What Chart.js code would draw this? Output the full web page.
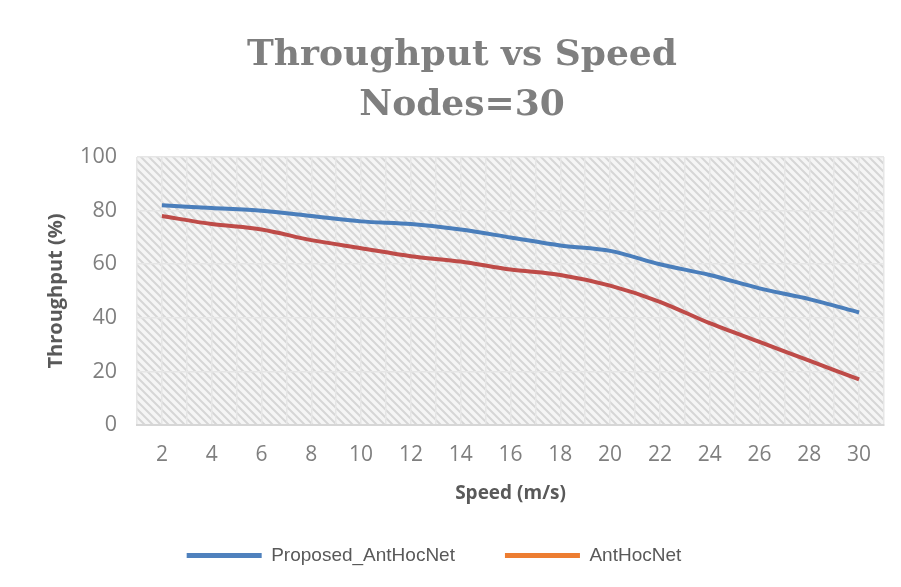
<!DOCTYPE html>
<html>
    <head>
        <title>Throughput vs Speed</title>
        <style>
            body { margin: 0; background: #ffffff; }
            #wrap { width: 901px; height: 587px; }
        </style>
    </head>
    <body>
        <div id="wrap">
            <canvas id="speed"></canvas>
        </div>

        <script src="https://cdn.jsdelivr.net/npm/chart.js"></script>
        <script>
            const speeds = [2, 4, 6, 8, 10, 12, 14, 16, 18, 20, 22, 24, 26, 28, 30];
            const proposed = [82, 81, 80, 78, 76, 75, 73, 70, 67, 65, 60, 56, 51, 47, 42];
            const antHocNet = [78, 75, 73, 69, 66, 63, 61, 58, 56, 52, 46, 38, 31, 24, 17];
            const yTicks = [0, 20, 40, 60, 80, 100];

            const toPoints = (vals) => speeds.map((s, i) => ({ x: s, y: vals[i] }));

            // diagonal hatch behind the plot, like the excel pattern fill
            const makeHatch = () => {
                const c = document.createElement('canvas');
                c.width = 8; c.height = 8;
                const g = c.getContext('2d');
                g.fillStyle = '#f5f5f5';
                g.fillRect(0, 0, 8, 8);
                g.strokeStyle = '#d6d6d6';
                g.lineWidth = 2;
                g.beginPath();
                g.moveTo(-2, -2); g.lineTo(10, 10);
                g.moveTo(-6, 2); g.lineTo(2, 10);
                g.moveTo(6, -2); g.lineTo(14, 6);
                g.stroke();
                return c;
            };

            const hatchBg = {
                id: 'hatchBg',
                afterLayout(chart) {
                    // title sits a bit right of centre, legend a bit left, as in the original
                    chart.titleBlock.left += 18;
                    chart.titleBlock.right += 18;
                    chart.legend.left -= 10;
                    chart.legend.right -= 10;
                },
                beforeDraw(chart) {
                    const { ctx, chartArea: a } = chart;
                    ctx.save();
                    ctx.fillStyle = ctx.createPattern(makeHatch(), 'repeat');
                    ctx.fillRect(a.left, a.top, a.right - a.left, a.bottom - a.top);
                    ctx.restore();
                }
            };

            const legendColors = ['#4f81bd', '#ed7d31'];

            new Chart(document.querySelector('#speed'), {
                type: 'line',
                data: {
                    datasets: [{
                        label: 'Proposed_AntHocNet',
                        data: toPoints(proposed),
                        borderColor: '#4a7ebb',
                        borderWidth: 4,
                        pointRadius: 0,
                        tension: 0.3
                    }, {
                        label: 'AntHocNet',
                        data: toPoints(antHocNet),
                        borderColor: '#be4b48',
                        borderWidth: 4,
                        pointRadius: 0,
                        tension: 0.3
                    }]
                },
                options: {
                    responsive: true,
                    maintainAspectRatio: false,
                    animation: false,
                    layout: { padding: { left: 0, right: 13, top: 0, bottom: 12 } },
                    plugins: {
                        title: {
                            display: true,
                            text: ['Throughput vs Speed', 'Nodes=30'],
                            color: '#7f7f7f',
                            font: { family: 'DejaVu Serif', size: 36, weight: 'bold', lineHeight: 1.39 },
                            padding: { top: 31, bottom: 26 }
                        },
                        legend: {
                            position: 'bottom',
                            labels: {
                                color: '#595959',
                                font: { family: 'Liberation Sans', size: 19 },
                                boxWidth: 75,
                                boxHeight: 5,
                                padding: 50,
                                generateLabels: (chart) => chart.data.datasets.map((ds, i) => ({
                                    text: ds.label,
                                    fillStyle: legendColors[i],
                                    strokeStyle: legendColors[i],
                                    lineWidth: 0,
                                    fontColor: '#595959',
                                    datasetIndex: i
                                }))
                            }
                        },
                        tooltip: { enabled: false }
                    },
                    scales: {
                        x: {
                            type: 'linear',
                            min: 1,
                            max: 31,
                            afterFit: (s) => { s.height = 71; },
                            ticks: {
                                stepSize: 1,
                                autoSkip: false,
                                maxRotation: 0,
                                padding: 17,
                                color: '#7f7f7f',
                                font: { family: 'Open Sans', size: 21 },
                                callback: (v) => speeds.includes(v) ? String(v) : ''
                            },
                            grid: { color: '#e6e6e6', lineWidth: 1.5, drawTicks: false },
                            border: { color: '#d6d6d6', width: 2 },
                            title: {
                                display: true,
                                text: 'Speed (m/s)',
                                color: '#595959',
                                font: { family: 'Open Sans', size: 19, weight: 'bold' },
                                padding: { top: 0, bottom: -9 }
                            }
                        },
                        y: {
                            min: 0,
                            max: 100,
                            afterFit: (s) => { s.width = 137; },
                            afterBuildTicks: (s) => { s.ticks = yTicks.map(v => ({ value: v })); },
                            ticks: {
                                padding: 20,
                                color: '#7f7f7f',
                                font: { family: 'Open Sans', size: 21.5 }
                            },
                            grid: { color: '#e6e6e6', lineWidth: 1.5, drawTicks: false },
                            border: { display: false },
                            title: {
                                display: true,
                                text: 'Throughput (%)',
                                color: '#595959',
                                font: { family: 'Open Sans', size: 20, weight: 'bold' },
                                padding: { top: 44, bottom: 0 }
                            }
                        }
                    }
                },
                plugins: [hatchBg]
            });
        </script>
    </body>
</html>
